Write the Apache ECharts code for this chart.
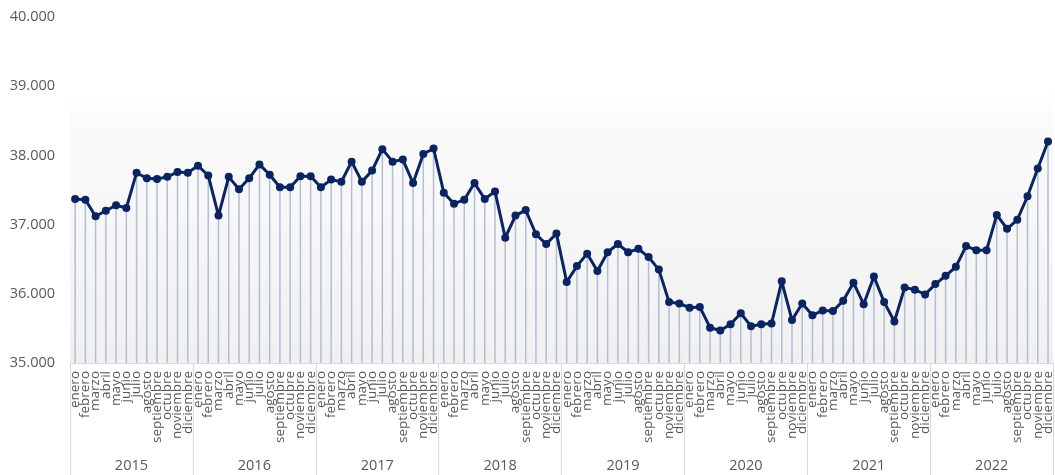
<!DOCTYPE html>
<html>
<head>
<meta charset="utf-8">
<script src="https://cdn.jsdelivr.net/npm/echarts@6/dist/echarts.min.js"></script>
<style>
  html, body { margin: 0; padding: 0; background: #ffffff; }
  #chart { width: 1055px; height: 475px; }
</style>
</head>
<body>
<div id="chart"></div>
<script>
const years = ['2015', '2016', '2017', '2018', '2019', '2020', '2021', '2022'];
const months = ['enero', 'febrero', 'marzo', 'abril', 'mayo', 'junio', 'julio', 'agosto', 'septiembre', 'octubre', 'noviembre', 'diciembre'];

const v2015 = [37370, 37360, 37120, 37200, 37280, 37240, 37750, 37670, 37660, 37690, 37760, 37750];
const v2016 = [37850, 37710, 37130, 37690, 37510, 37670, 37870, 37720, 37540, 37540, 37700, 37700];
const v2017 = [37540, 37650, 37620, 37910, 37620, 37780, 38090, 37910, 37940, 37600, 38020, 38100];
const v2018 = [37460, 37300, 37360, 37600, 37370, 37480, 36810, 37130, 37210, 36860, 36720, 36870];
const v2019 = [36170, 36400, 36580, 36330, 36600, 36720, 36600, 36650, 36530, 36350, 35880, 35860];
const v2020 = [35800, 35810, 35510, 35470, 35560, 35720, 35530, 35560, 35570, 36180, 35620, 35860];
const v2021 = [35690, 35760, 35750, 35900, 36160, 35850, 36250, 35880, 35600, 36090, 36060, 35990];
const v2022 = [36140, 36260, 36390, 36690, 36630, 36630, 37140, 36940, 37070, 37410, 37810, 38200];

const yTicks = { min: 35000, max: 40000, interval: 1000 };

const values = [].concat(v2015, v2016, v2017, v2018, v2019, v2020, v2021, v2022);
const categories = [];
years.forEach(y => months.forEach(m => categories.push(m)));

const fmt = v => {
  const s = String(Math.round(v));
  return s.replace(/\B(?=(\d{3})+(?!\d))/g, '.');
};

const chart = echarts.init(document.getElementById('chart'), null, { renderer: 'canvas' });
chart.setOption({
  animation: false,
  textStyle: { fontFamily: 'Open Sans' },
  grid: {
    left: 70, right: 0, top: 17, bottom: 112,
    show: true,
    borderWidth: 0,
    backgroundColor: {
      type: 'linear', x: 0, y: 0, x2: 0, y2: 1,
      colorStops: [
        { offset: 0, color: '#ffffff' },
        { offset: 0.2, color: '#ffffff' },
        { offset: 0.3, color: '#fbfbfb' },
        { offset: 1, color: '#f0f0f0' }
      ]
    }
  },
  xAxis: [
    {
      type: 'category',
      data: categories,
      position: 'bottom',
      boundaryGap: true,
      axisLine: { show: true, lineStyle: { color: '#d9d9d9', width: 1 } },
      axisTick: { show: false },
      axisLabel: {
        interval: 0, rotate: 90, margin: 8,
        fontSize: 13.5, color: '#595959', fontFamily: 'Open Sans'
      },
      splitLine: { show: false }
    },
    {
      type: 'category',
      data: years,
      position: 'bottom',
      boundaryGap: true,
      axisLine: { show: false },
      axisTick: { show: true, interval: 0, length: 112, lineStyle: { color: '#d9d9d9', width: 1 } },
      axisLabel: { interval: 0, margin: 95, fontSize: 14.5, color: '#595959', fontFamily: 'Open Sans' },
      splitLine: { show: false }
    }
  ],
  yAxis: {
    type: 'value',
    min: yTicks.min, max: yTicks.max, interval: yTicks.interval,
    startValue: yTicks.min,
    axisLine: { show: false },
    axisTick: { show: false },
    splitLine: { show: false },
    axisLabel: { formatter: fmt, fontSize: 14.5, color: '#595959', margin: 15, fontFamily: 'Open Sans' }
  },
  series: [
    {
      type: 'bar',
      data: values,
      xAxisIndex: 0,
      barWidth: 1.5,
      clip: true,
      itemStyle: { color: '#b3bdd5' },
      silent: true,
      z: 1
    },
    {
      type: 'line',
      data: values,
      xAxisIndex: 0,
      symbol: 'circle',
      symbolSize: 8,
      lineStyle: { color: '#0a2461', width: 3 },
      itemStyle: { color: '#0a2461' },
      z: 3
    }
  ]
});
</script>
</body>
</html>
